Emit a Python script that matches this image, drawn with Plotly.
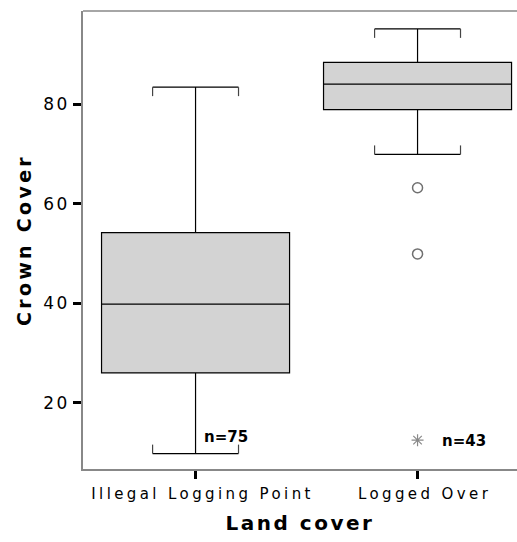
import plotly.graph_objects as go

# ---- data ----
categories = ["Illegal Logging Point", "Logged Over"]
q1 = [26.0, 78.9]
median = [39.8, 84.0]
q3 = [54.2, 88.4]
lower_whisker = [9.8, 69.9]
upper_whisker = [83.4, 95.1]
n_counts = [75, 43]
outlier_cat = [1, 1]
outlier_val = [63.2, 49.9]
extreme_cat = [1]
extreme_val = [12.5]
y_ticks = [20, 40, 60, 80]

pos = list(range(len(categories)))

BOX_W = 0.847
WHISK_W = 0.457
CAP_DROP = 1.8
FONT = "DejaVu Sans"

fig = go.Figure()

fig.add_trace(go.Box(
    x=pos, q1=q1, median=median, q3=q3,
    lowerfence=lower_whisker, upperfence=upper_whisker,
    width=BOX_W, whiskerwidth=WHISK_W,
    fillcolor="#d3d3d3",
    line=dict(color="black", width=1.2),
    boxpoints=False, showlegend=False, hoverinfo="skip",
))

# small bracket ends on the whisker caps
cap_x, cap_y = [], []
half = BOX_W * WHISK_W / 2
for i, p in enumerate(pos):
    for sx in (-1, 1):
        cap_x += [p + sx * half, p + sx * half, None]
        cap_y += [upper_whisker[i], upper_whisker[i] - CAP_DROP, None]
        cap_x += [p + sx * half, p + sx * half, None]
        cap_y += [lower_whisker[i], lower_whisker[i] + CAP_DROP, None]
fig.add_trace(go.Scatter(x=cap_x, y=cap_y, mode="lines",
                         line=dict(color="#444444", width=1.2),
                         showlegend=False, hoverinfo="skip"))

fig.add_trace(go.Scatter(x=outlier_cat, y=outlier_val, mode="markers",
                         marker=dict(symbol="circle-open", size=10,
                                     color="#707070", line=dict(width=1.5)),
                         showlegend=False))
fig.add_trace(go.Scatter(x=extreme_cat, y=extreme_val, mode="markers",
                         marker=dict(symbol="asterisk-open", size=10,
                                     color="#8a8a8a", line=dict(width=1.2)),
                         showlegend=False))

n_offsets = [0.03, 0.10]
n_y = [13.1, 12.3]
for i, p in enumerate(pos):
    fig.add_annotation(x=p + n_offsets[i], y=n_y[i], xref="x", yref="y",
                       text=f"<b>n={n_counts[i]}</b>", showarrow=False,
                       xanchor="left", yanchor="middle",
                       font=dict(family=FONT, size=15, color="black"))

fig.add_shape(type="line", xref="paper", yref="paper", x0=0, x1=1, y0=1, y1=1,
              line=dict(color="#888888", width=1.5))

fig.update_layout(
    width=517, height=542,
    margin=dict(l=83, r=0, t=11, b=73),
    plot_bgcolor="white", paper_bgcolor="white",
    font=dict(family=FONT, color="black"),
    xaxis=dict(range=[-0.507, 1.448], tickvals=pos, ticktext=categories,
               ticks="outside", ticklen=8, tickwidth=3, tickcolor="black",
               showline=True, linecolor="#888888", linewidth=1.5,
               showgrid=False, zeroline=False,
               ticklabelshift=7, ticklabelstandoff=2,
               tickfont=dict(family=FONT, size=15, color="black"),
               title=dict(text="<b>Land cover</b>", standoff=14,
                          font=dict(family=FONT, size=20, color="black"))),
    yaxis=dict(range=[6.7, 98.7], tickvals=y_ticks,
               ticks="outside", ticklen=8, tickwidth=3, tickcolor="black",
               showline=True, linecolor="#888888", linewidth=1.5,
               showgrid=False, zeroline=False,
               tickfont=dict(family=FONT, size=17, color="black"),
               title=dict(text="<b>Crown Cover</b>", standoff=12,
                          font=dict(family=FONT, size=19, color="black"))),
)

post_js = """
document.documentElement.style.margin='0';
document.body.style.margin='0';
document.body.style.overflow='hidden';
var gd = document.getElementById('{plot_id}');
function sp(){
  gd.querySelectorAll('.xtick text').forEach(function(t){t.style.letterSpacing='3.4px';});
  gd.querySelectorAll('.ytick text').forEach(function(t){t.style.letterSpacing='2.5px';});
  gd.querySelectorAll('.g-xtitle text').forEach(function(t){t.style.letterSpacing='2.5px';});
  gd.querySelectorAll('.g-ytitle text').forEach(function(t){t.style.letterSpacing='3.3px';});
}
sp();
if (gd.on) { gd.on('plotly_afterplot', sp); }
"""

fig.write_html("out.html", post_script=post_js,
               config={"displayModeBar": False})
